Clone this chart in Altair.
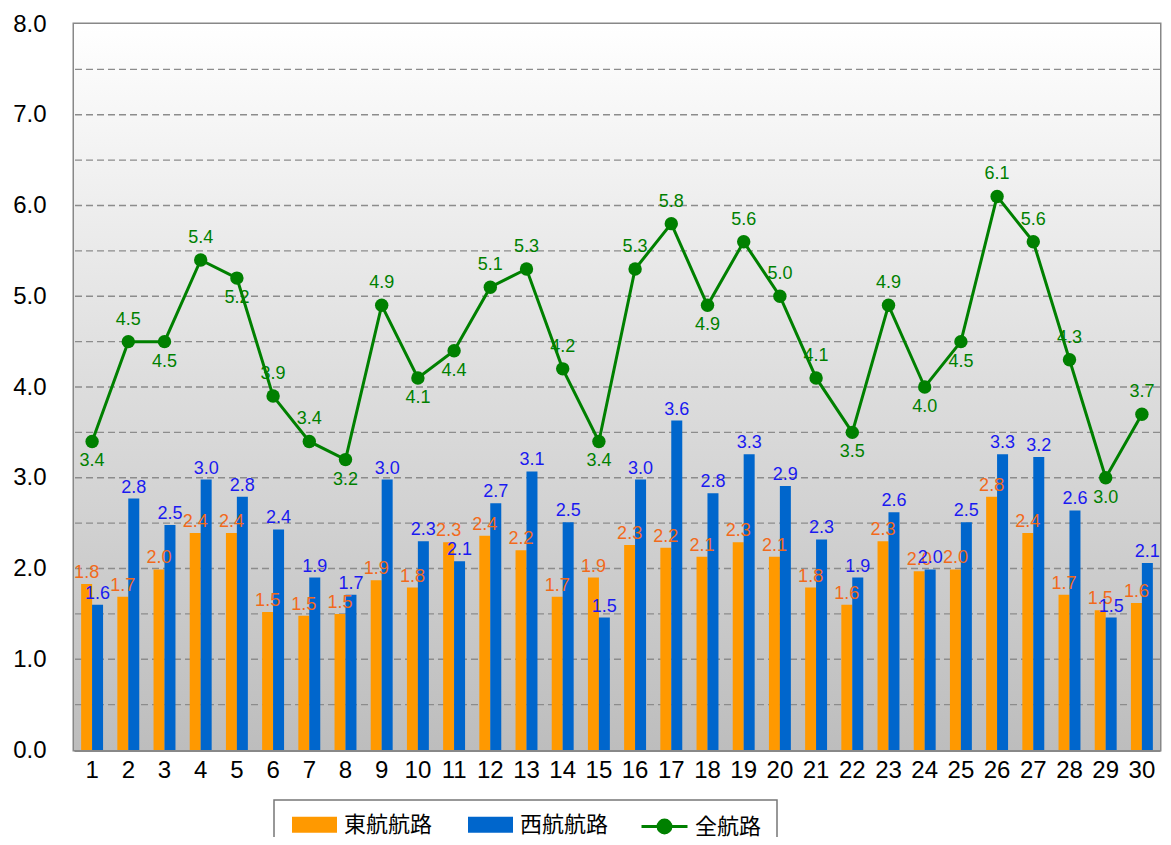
import altair as alt
import pandas as pd

days = list(range(1, 31))
east = [1.83, 1.69, 1.99, 2.39, 2.39, 1.52, 1.48, 1.50, 1.87, 1.79,
        2.29, 2.36, 2.20, 1.69, 1.90, 2.26, 2.23, 2.13, 2.29, 2.13,
        1.79, 1.60, 2.30, 1.97, 1.99, 2.79, 2.39, 1.71, 1.54, 1.62]
west = [1.60, 2.77, 2.48, 2.98, 2.79, 2.43, 1.90, 1.71, 2.98, 2.30,
        2.08, 2.72, 3.07, 2.51, 1.46, 2.98, 3.63, 2.83, 3.26, 2.91,
        2.32, 1.90, 2.62, 1.99, 2.51, 3.26, 3.23, 2.64, 1.46, 2.06]
total = [3.4, 4.5, 4.5, 5.4, 5.2, 3.9, 3.4, 3.2, 4.9, 4.1,
         4.4, 5.1, 5.3, 4.2, 3.4, 5.3, 5.8, 4.9, 5.6, 5.0,
         4.1, 3.5, 4.9, 4.0, 4.5, 6.1, 5.6, 4.3, 3.0, 3.7]
# label side for the total-line labels: "a" above, "b" below
total_label_side = ["b", "a", "b", "a", "b", "a", "a", "b", "a", "b",
                    "b", "a", "a", "a", "b", "a", "a", "b", "a", "a",
                    "a", "b", "a", "b", "b", "a", "a", "a", "b", "a"]
series_names = ["東航航路", "西航航路"]
line_name = "全航路"
y_ticks = [0, 1, 2, 3, 4, 5, 6, 7, 8]
grid_vals = [0.5, 1, 1.5, 2, 2.5, 3, 3.5, 4, 4.5, 5, 5.5, 6, 6.5, 7, 7.5]

ORANGE = "#FF9900"
BLUE = "#0066CC"
GREEN = "#008000"
ORANGE_TXT = "#F26A1B"
BLUE_TXT = "#1A1AF0"

bars = pd.DataFrame({
    "day": days * 2,
    "series": [series_names[0]] * 30 + [series_names[1]] * 30,
    "value": east + west,
})
line = pd.DataFrame({"day": days, "value": total, "side": total_label_side,
                     "series": [line_name] * 30})
grid = pd.DataFrame({"value": grid_vals})
one = pd.DataFrame({"k": [0]})

xenc = alt.X("day:O", scale=alt.Scale(paddingInner=0.396, paddingOuter=0.198),
             axis=alt.Axis(title=None, labelAngle=0, ticks=False, domainColor="#888888",
                           domainWidth=3, labelFontSize=24, labelColor="#000000",
                           labelFont="Liberation Sans Narrow, Liberation Sans, sans-serif",
                           labelPadding=8))
yenc = alt.Y("value:Q", scale=alt.Scale(domain=[0, 8], nice=False, zero=True),
             axis=alt.Axis(title=None, values=y_ticks, format=".1f", grid=False, ticks=False,
                           domainColor="#888888", domainWidth=3, labelFontSize=24,
                           labelColor="#000000", labelFont="Liberation Sans",
                           labelPadding=28))
xoff = alt.XOffset("series:N", scale=alt.Scale(domain=series_names, paddingInner=0, paddingOuter=0))

bg = alt.Chart(one).mark_rect(
    fill=alt.LinearGradient(gradient="linear",
                            stops=[alt.GradientStop(color="#ffffff", offset=0),
                                   alt.GradientStop(color="#e0e0e0", offset=0.45),
                                   alt.GradientStop(color="#bdbdbd", offset=1)],
                            x1=0, x2=0, y1=0, y2=1)
).encode(x=alt.value(0), x2=alt.value("width"), y=alt.value(0), y2=alt.value("height"))

grid_layer = alt.Chart(grid).mark_rule(color="#8c8c8c", strokeDash=[7, 4], strokeWidth=1.3).encode(y=yenc)

bar_layer = alt.Chart(bars).mark_bar(size=11).encode(
    x=xenc, xOffset=xoff, y=yenc,
    color=alt.Color("series:N", scale=alt.Scale(domain=series_names, range=[ORANGE, BLUE]),
                    legend=alt.Legend(orient="none", legendX=218, legendY=778, direction="horizontal",
                                      title=None, symbolType="M-1,-0.356H1V0.356H-1Z",
                                      symbolSize=2025, symbolStrokeWidth=0, symbolOpacity=1,
                                      labelFontSize=22, labelFont="Noto Sans CJK JP",
                                      labelColor="#000000", labelOffset=7, columnPadding=35,
                                      labelLimit=200)),
)

def bar_text(name, col):
    return alt.Chart(bars).transform_filter(alt.datum.series == name).mark_text(
        fontSize=18, font="Liberation Sans", color=col, baseline="alphabetic", dy=-6
    ).encode(x=xenc, xOffset=xoff, y=yenc, text=alt.Text("value:Q", format=".1f"))

line_layer = alt.Chart(line).mark_line(strokeWidth=3).encode(
    x=xenc, y=yenc,
    stroke=alt.Stroke("series:N", scale=alt.Scale(domain=[line_name], range=[GREEN]),
                      legend=alt.Legend(orient="none", legendX=566, legendY=778, title=None,
                                        symbolType="M-1,0H1M0.28,0A0.28,0.28,0,1,1,-0.28,0A0.28,0.28,0,1,1,0.28,0Z",
                                        symbolSize=2116, symbolStrokeWidth=3,
                                        symbolFillColor=GREEN, symbolStrokeColor=GREEN,
                                        labelFontSize=22, labelFont="Noto Sans CJK JP",
                                        labelColor="#000000", labelOffset=6)),
)
point_layer = alt.Chart(line).mark_circle(size=180, color=GREEN, opacity=1).encode(x=xenc, y=yenc)

def line_text(side, dy):
    return alt.Chart(line).transform_filter(alt.datum.side == side).mark_text(
        fontSize=18, font="Liberation Sans", color=GREEN, baseline="middle", dy=dy
    ).encode(x=xenc, y=yenc, text=alt.Text("value:Q", format=".1f"))

legend_box = alt.Chart(one).mark_rect(fillOpacity=0, stroke="#777777", strokeWidth=1.5).encode(
    x=alt.value(200), x2=alt.value(703), y=alt.value(776), y2=alt.value(840))

chart = alt.layer(
    bg, grid_layer, bar_layer, bar_text(series_names[0], ORANGE_TXT), bar_text(series_names[1], BLUE_TXT),
    line_layer, point_layer, line_text("a", -22), line_text("b", 20), legend_box
).properties(
    width=1086, height=726,
    padding={"left": 66, "top": 16, "right": 3, "bottom": 87},
    autosize=alt.AutoSizeParams(type="none"),
).configure_view(stroke="#888888", strokeWidth=3)

chart.save("out.html", embed_options={"renderer": "svg", "actions": False})
